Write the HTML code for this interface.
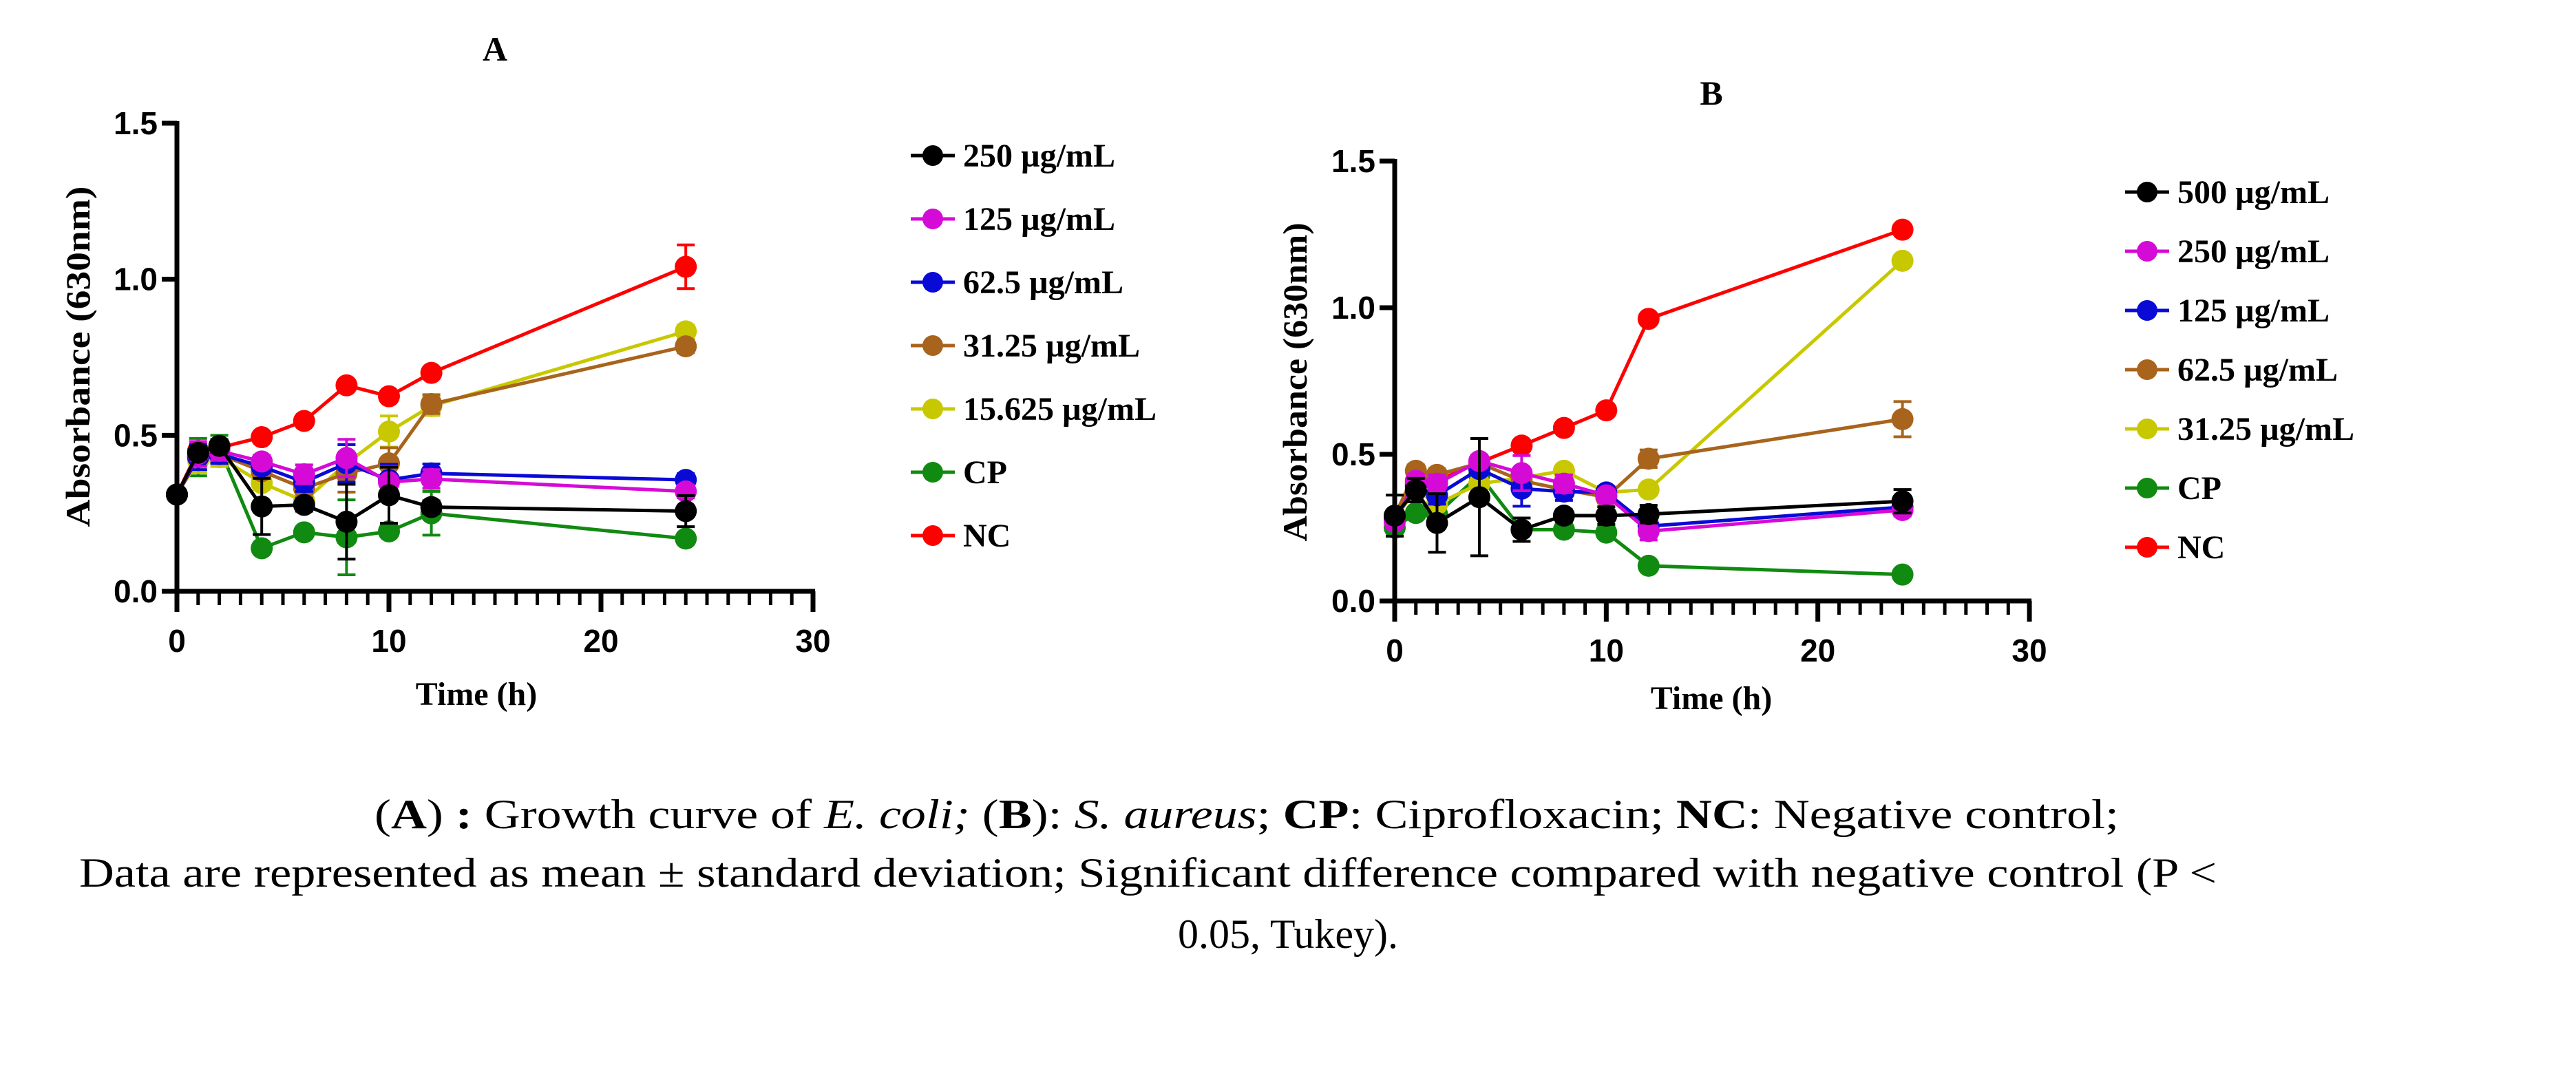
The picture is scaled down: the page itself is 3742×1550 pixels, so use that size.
<!DOCTYPE html>
<html><head><meta charset="utf-8"><style>
html,body{margin:0;padding:0;background:#fff;}
svg{display:block;}
</style></head><body>
<svg id="fig" width="3742" height="1550" xmlns="http://www.w3.org/2000/svg">
<text x="719" y="88" font-family="Liberation Serif, serif" font-weight="bold" font-size="50" text-anchor="middle">A</text>
<text x="2486" y="152" font-family="Liberation Serif, serif" font-weight="bold" font-size="50" text-anchor="middle">B</text>
<g font-family="Liberation Serif, serif" font-size="60">
<text x="544" y="1203" textLength="2534" lengthAdjust="spacingAndGlyphs">(<tspan font-weight="bold">A</tspan>) <tspan font-weight="bold">:</tspan> Growth curve of <tspan font-style="italic">E. coli;</tspan> (<tspan font-weight="bold">B</tspan>): <tspan font-style="italic">S. aureus</tspan>; <tspan font-weight="bold">CP</tspan>: Ciprofloxacin; <tspan font-weight="bold">NC</tspan>: Negative control;</text>
<text x="115" y="1288" textLength="3105" lengthAdjust="spacingAndGlyphs">Data are represented as mean ± standard deviation; Significant difference compared with negative control (P &lt;</text>
<text x="1871" y="1377" text-anchor="middle">0.05, Tukey).</text>
</g>
</svg>
<script>
const times = [0,1,2,4,6,8,10,12,24];
const xTicks = [0,10,20,30];
const yTicks = [0.0,0.5,1.0,1.5];
const yTickLabels = ["0.0","0.5","1.0","1.5"];
const colors = ["#000000","#d60ad6","#0a0ad6","#a8641c","#c8c800","#108a10","#ff0000"];
const namesA = ["250 µg/mL","125 µg/mL","62.5 µg/mL","31.25 µg/mL","15.625 µg/mL","CP","NC"];
const namesB = ["500 µg/mL","250 µg/mL","125 µg/mL","62.5 µg/mL","31.25 µg/mL","CP","NC"];
const a250 = [0.31,0.444,0.466,0.272,0.277,0.223,0.308,0.27,0.257];
const a125 = [0.31,0.44,0.45,0.416,0.375,0.427,0.35,0.36,0.32];
const a62 = [0.31,0.43,0.44,0.40,0.35,0.41,0.357,0.378,0.357];
const a31 = [0.31,0.43,0.44,0.385,0.33,0.378,0.41,0.60,0.785];
const a15 = [0.31,0.42,0.43,0.347,0.29,0.41,0.512,0.594,0.833];
const aCP = [0.31,0.43,0.46,0.138,0.189,0.173,0.192,0.25,0.169];
const aNC = [0.31,0.45,0.46,0.494,0.546,0.66,0.625,0.70,1.04];
const aErr250 = [0,0.02,0.02,0.09,0.02,0.12,0.09,0.02,0.05];
const aErrOther = [0,0.04,0.03,0.02,0.03,0.06,0.05,0.03,0.02];
const aErrCP = [0,0.06,0.04,0.01,0.01,0.12,0.01,0.07,0.01];
const aErrNC = [0,0.01,0.01,0.01,0.01,0.01,0.01,0.01,0.07];
const b500 = [0.291,0.378,0.266,0.354,0.243,0.291,0.291,0.296,0.34];
const b250 = [0.27,0.41,0.40,0.477,0.436,0.40,0.36,0.238,0.31];
const b125 = [0.28,0.39,0.36,0.45,0.383,0.373,0.37,0.255,0.32];
const b62 = [0.29,0.444,0.43,0.47,0.41,0.38,0.354,0.485,0.62];
const b31 = [0.28,0.38,0.33,0.40,0.42,0.444,0.37,0.38,1.16];
const bCP = [0.25,0.30,0.296,0.43,0.243,0.243,0.233,0.12,0.09];
const bNC = [0.29,0.40,0.41,0.472,0.53,0.59,0.65,0.962,1.266];
const bErr500 = [0.07,0.04,0.1,0.2,0.04,0.02,0.03,0.03,0.04];
const bErrOther = [0.02,0.02,0.03,0.02,0.06,0.03,0.02,0.03,0.02];
const bErr62 = [0.02,0.02,0.02,0.02,0.02,0.02,0.02,0.03,0.06];
const bErrLow = [0.01,0.01,0.01,0.01,0.01,0.01,0.01,0.01,0.01];

const NS="http://www.w3.org/2000/svg";
const svg=document.getElementById('fig');
function mk(tag,attrs,parent){const e=document.createElementNS(NS,tag);for(const k in attrs)e.setAttribute(k,attrs[k]);(parent||svg).appendChild(e);return e;}

function panel(cfg){
  const g=mk('g',{});
  
  
  const X=v=>cfg.x0+(v-0)/30*(cfg.x1-cfg.x0);
  const Y=v=>cfg.y0-(v/1.5)*(cfg.y0-cfg.y1);
  for(let s=cfg.series.length-1;s>=0;s--){
    const vals=cfg.series[s], err=cfg.errs[s], col=colors[s];
    const sg=mk('g',{},g);
    
    
    const pts=vals.map((v,i)=>X(times[i])+','+Y(v)).join(' ');
    mk('polyline',{points:pts,fill:'none',stroke:col,'stroke-width':5},sg);
    vals.forEach((v,i)=>{
      const e=err[i];
      if(e>0.015){
        const x=X(times[i]);
        mk('line',{x1:x,x2:x,y1:Y(v-e),y2:Y(v+e),stroke:col,'stroke-width':4},sg);
        mk('line',{x1:x-13,x2:x+13,y1:Y(v-e),y2:Y(v-e),stroke:col,'stroke-width':4},sg);
        mk('line',{x1:x-13,x2:x+13,y1:Y(v+e),y2:Y(v+e),stroke:col,'stroke-width':4},sg);
      }
      const c=mk('ellipse',{cx:X(times[i]),cy:Y(v),rx:16,ry:16,fill:col},sg);
      
      
    });
  }
  const ax=mk('g',{stroke:'#000','stroke-width':7},g);
  
  
  mk('line',{x1:cfg.x0,x2:cfg.x0,y1:cfg.y1-3,y2:cfg.y0+3},ax);
  mk('line',{x1:cfg.x0-3,x2:cfg.x1+3,y1:cfg.y0,y2:cfg.y0},ax);
  for(let t=1;t<30;t++){ if(t%10) mk('line',{x1:X(t),x2:X(t),y1:cfg.y0,y2:cfg.y0+20,'stroke-width':5},ax); }
  xTicks.forEach(t=>{
    mk('line',{x1:X(t),x2:X(t),y1:cfg.y0,y2:cfg.y0+30},ax);
    const tx=mk('text',{x:X(t),y:cfg.y0+88,'text-anchor':'middle','font-family':'Liberation Sans Narrow, Liberation Sans, sans-serif','font-weight':'bold','font-size':46,stroke:'none',fill:'#000'},g);
    tx.textContent=t;
    
    
  });
  yTicks.forEach((t,i)=>{
    mk('line',{x1:cfg.x0-22,x2:cfg.x0,y1:Y(t),y2:Y(t)},ax);
    const tx=mk('text',{x:cfg.x0-28,y:Y(t)+16,'text-anchor':'end','font-family':'Liberation Sans Narrow, Liberation Sans, sans-serif','font-weight':'bold','font-size':46,fill:'#000'},g);
    tx.textContent=yTickLabels[i];
    
    
  });
  const xt=mk('text',{x:cfg.xtx,y:cfg.xty,'text-anchor':'middle','font-family':'Liberation Serif, serif','font-weight':'bold','font-size':48},g);
  xt.textContent='Time (h)';
  
  
  const yt=mk('text',{x:0,y:0,'text-anchor':'middle','font-family':'Liberation Serif, serif','font-weight':'bold','font-size':50,textLength:cfg.ytlen,lengthAdjust:'spacingAndGlyphs',transform:`translate(${cfg.ytx},${cfg.yty}) rotate(-90)`},g);
  yt.textContent='Absorbance (630nm)';
  
  
  cfg.names.forEach((n,i)=>{
    const lg=mk('g',{},g);
    
    
    const y=cfg.legY[0]+i*cfg.legY[1];
    mk('line',{x1:cfg.legX-32,x2:cfg.legX+32,y1:y,y2:y,stroke:colors[i],'stroke-width':5},lg);
    mk('ellipse',{cx:cfg.legX,cy:y,rx:15,ry:15,fill:colors[i]},lg);
    const t=mk('text',{x:cfg.legX+44,y:y+16,'font-family':'Liberation Serif, serif','font-weight':'bold','font-size':48},lg);
    t.textContent=n;
  });
}
panel({id:'panel-a',x0:257,x1:1181,y0:859,y1:179,
  series:[a250,a125,a62,a31,a15,aCP,aNC],
  errs:[aErr250,aErrOther,aErrOther,aErrOther,aErrOther,aErrCP,aErrNC],
  names:namesA,xtx:692,xty:1024,ytx:130,yty:518,ytlen:495,legX:1355,legY:[226,92]});
panel({id:'panel-b',x0:2026,x1:2948,y0:873,y1:234,
  series:[b500,b250,b125,b62,b31,bCP,bNC],
  errs:[bErr500,bErrOther,bErrOther,bErr62,bErrLow,bErrLow,bErrLow],
  names:namesB,xtx:2486,xty:1030,ytx:1898,yty:555,ytlen:463,legX:3119,legY:[279,86]});
</script>
</body></html>
